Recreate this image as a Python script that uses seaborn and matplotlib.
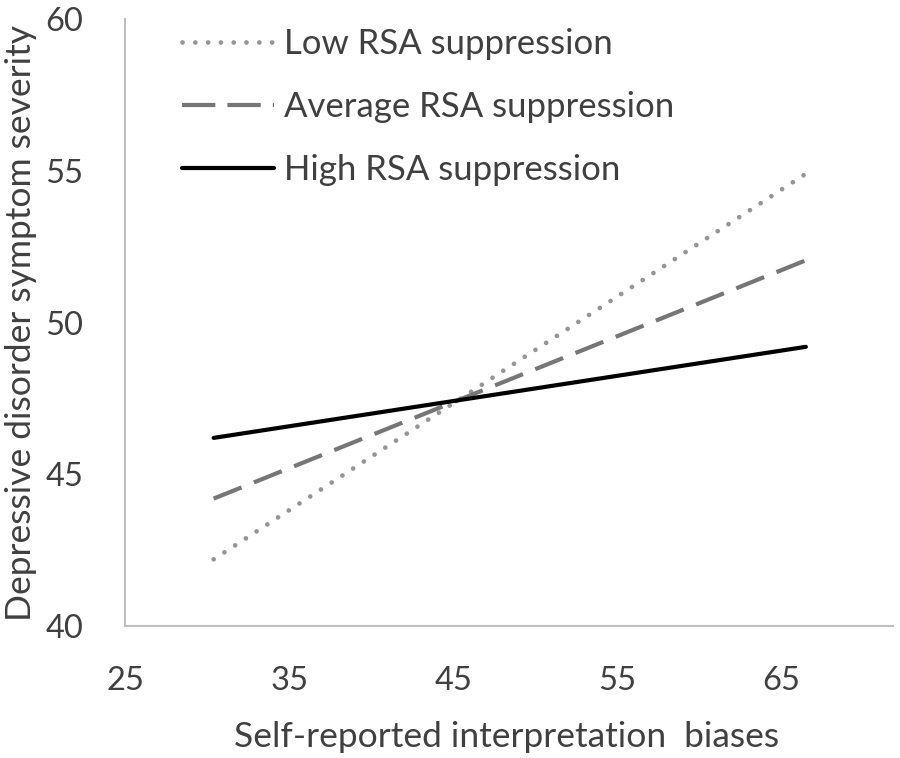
import matplotlib
matplotlib.use("Agg")
import matplotlib.pyplot as plt
import seaborn as sns
import pandas as pd
from matplotlib.lines import Line2D

# Data
x_vals = [30.4, 66.5]
groups = ["Low RSA suppression", "Average RSA suppression", "High RSA suppression"]
low_vals = [42.2, 54.9]
avg_vals = [44.2, 52.05]
high_vals = [46.2, 49.2]
x_ticks = [25, 35, 45, 55, 65]
y_ticks = [40, 45, 50, 55, 60]

rows = []
for g, vals in zip(groups, [low_vals, avg_vals, high_vals]):
    for xv, yv in zip(x_vals, vals):
        rows.append({"x": xv, "y": yv, "group": g})
df = pd.DataFrame(rows)

sns.set_theme(style="white")
plt.rcParams["font.family"] = ["Lato", "DejaVu Sans"]

fig = plt.figure(figsize=(9, 7.58), dpi=100)
ax = fig.add_axes([0.139, 0.174, 0.853, 0.801])

colors = {"Low RSA suppression": "#959595",
          "Average RSA suppression": "#767676",
          "High RSA suppression": "#000000"}
dashes = {"Low RSA suppression": (0.01, 2.7),
          "Average RSA suppression": (7.2, 3.2),
          "High RSA suppression": ""}
legend_dashes = {"Low RSA suppression": (0.01, 2.7),
                 "Average RSA suppression": (8.0, 2.9),
                 "High RSA suppression": ""}
LW = 3.0

sns.lineplot(data=df, x="x", y="y", hue="group", style="group",
             palette=colors, dashes=dashes, hue_order=groups, style_order=groups,
             linewidth=LW, ax=ax, legend=False)

lines = ax.get_lines()
for ln in lines:
    ln.set_solid_capstyle("round")
lines[0].set_dash_capstyle("round")
lines[0].set_linewidth(3.4)

ax.set_xlim(25, 71.8)
ax.set_ylim(40, 60)
ax.set_xticks(x_ticks)
ax.set_yticks(y_ticks)

for s in ["top", "right"]:
    ax.spines[s].set_visible(False)
for s in ["left", "bottom"]:
    ax.spines[s].set_color("#bfbfbf")
    ax.spines[s].set_linewidth(1.5)

ax.tick_params(axis="both", which="major", direction="out", length=12, width=1.5,
               color="#bfbfbf", labelsize=23.5, labelcolor="#404040")
ax.tick_params(axis="y", pad=18)
ax.tick_params(axis="x", pad=17)

ax.set_xlabel("Self-reported interpretation  biases", fontsize=25.5, color="#404040", va="center")
ax.set_ylabel("Depressive disorder symptom severity", fontsize=25.5, color="#404040", va="center")
ax.xaxis.set_label_coords((507 - 125) / 768, (626 - 737) / 607)
ax.yaxis.set_label_coords((21 - 125) / 768, 0.5)

handles = []
for i, g in enumerate(groups):
    h = Line2D([0], [0], color=colors[g], linewidth=3.4 if i == 0 else LW,
               linestyle=(0, legend_dashes[g]) if legend_dashes[g] else "-",
               dash_capstyle="round" if i == 0 else "butt",
               solid_capstyle="round")
    handles.append(h)
leg = ax.legend(handles, groups, loc="upper left",
                bbox_to_anchor=(182 / 900, 1 - 28 / 758), bbox_transform=fig.transFigure,
                frameon=False, fontsize=25, handlelength=2.65, handletextpad=0.3,
                labelspacing=0.9, borderpad=0, borderaxespad=0, labelcolor="#404040")

fig.savefig("out.png", dpi=100)
